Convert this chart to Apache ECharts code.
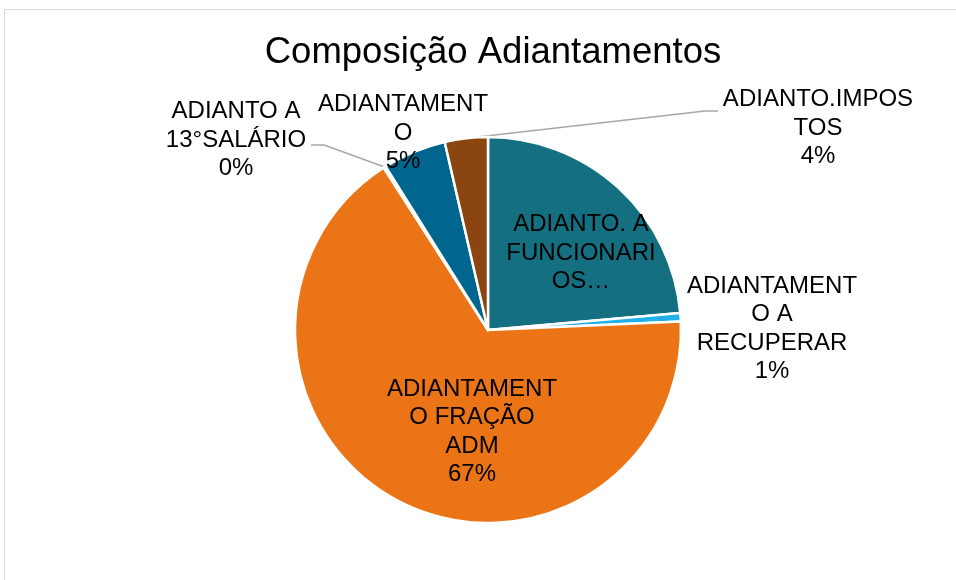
<!DOCTYPE html>
<html>
<head>
<meta charset="utf-8">
<script src="https://cdn.jsdelivr.net/npm/echarts@6/dist/echarts.min.js"></script>
<style>
  html, body { margin: 0; padding: 0; background: #fff; }
  #chart { width: 956px; height: 580px; }
</style>
</head>
<body>
<div id="chart"></div>
<script>
// dados
const categories = [
  'ADIANTO. A FUNCIONARIOS',
  'ADIANTAMENTO A RECUPERAR',
  'ADIANTAMENTO FRAÇÃO ADM',
  'ADIANTO A 13°SALÁRIO',
  'ADIANTAMENTO',
  'ADIANTO.IMPOSTOS'
]
const values = [23.6, 0.7, 66.6, 0.2, 5.3, 3.6]
// texto dos rótulos como aparece quebrado no gráfico original
const labelTexts = [
  ['ADIANTO. A', 'FUNCIONARI', 'OS…'],
  ['ADIANTAMENT', 'O A', 'RECUPERAR'],
  ['ADIANTAMENT', 'O FRAÇÃO', 'ADM'],
  ['ADIANTO A', '13°SALÁRIO'],
  ['ADIANTAMENT', 'O'],
  ['ADIANTO.IMPOS', 'TOS']
]
const showPercent = [false, true, true, true, true, true]
const colors = ['#146F80', '#1FB0E8', '#EB7516', '#A5A5A5', '#00658F', '#8B4511']

const total = values.reduce((a, b) => a + b, 0)

// posição dos rótulos relativa ao centro da pizza
const cx = 488, cy = 330
const labelPos = [
  [93, -77], [284, -1], [-16, 102], [-252, -190], [-85, -197], [330, -202]
]
const hasLine = [false, false, false, true, false, true]

const chart = echarts.init(document.getElementById('chart'))

chart.setOption({
  animation: false,
  title: {
    text: 'Composição Adiantamentos',
    left: cx,
    textAlign: 'center',
    top: 29,
    textStyle: {
      fontFamily: 'Liberation Sans, Arial, sans-serif',
      fontSize: 36.5,
      fontWeight: 'normal',
      color: '#000'
    }
  },
  graphic: [{
    type: 'rect',
    shape: { x: 4.5, y: 9.5, width: 1000, height: 700 },
    style: { fill: 'none', stroke: '#d9d9d9', lineWidth: 1 },
    silent: true
  }],
  series: [{
    type: 'pie',
    center: [cx, cy],
    radius: 193,
    startAngle: 90,
    clockwise: true,
    avoidLabelOverlap: false,
    itemStyle: { borderColor: '#fff', borderWidth: 2.5 },
    label: {
      show: true,
      position: 'outside',
      color: '#000',
      fontFamily: 'Liberation Sans, Arial, sans-serif',
      fontSize: 24,
      lineHeight: 28.5,
      align: 'center',
      formatter: p => {
        const lines = labelTexts[p.dataIndex].slice()
        if (showPercent[p.dataIndex]) lines.push(Math.round(p.value / total * 100) + '%')
        return lines.join('\n')
      }
    },
    labelLine: {
      show: true,
      length: 10,
      length2: 10,
      lineStyle: { color: '#a6a6a6', width: 1.5 }
    },
    labelLayout: p => {
      const i = p.dataIndex
      const x = cx + labelPos[i][0]
      const y = cy + labelPos[i][1]
      const res = { x, y, align: 'center', verticalAlign: 'middle' }
      if (hasLine[i] && p.labelLinePoints) {
        const start = p.labelLinePoints[0]
        const halfW = p.labelRect.width / 2
        const side = x < start[0] ? 1 : -1
        const endX = x + side * (halfW + 5)
        const lineY = i === 3 ? y + 5 : y - 17
        res.labelLinePoints = [start, [endX + side * 13, lineY], [endX, lineY]]
      }
      return res
    },
    data: categories.map((name, i) => ({
      name,
      value: values[i],
      itemStyle: { color: colors[i] },
      labelLine: { show: hasLine[i] }
    }))
  }]
})
</script>
</body>
</html>
